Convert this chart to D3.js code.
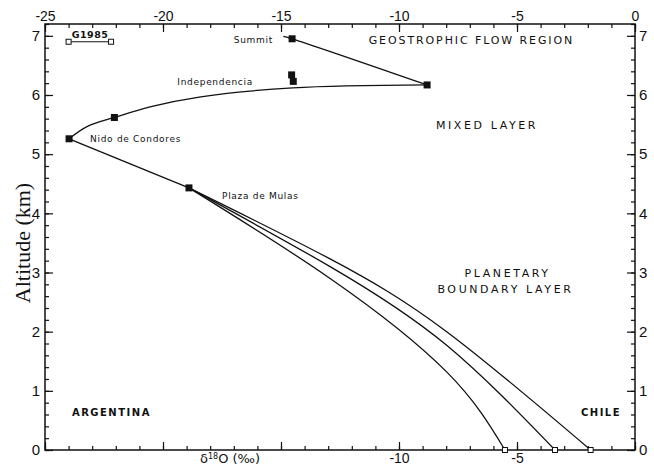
<!DOCTYPE html>
<html>
<head>
<meta charset="utf-8">
<script src="https://cdn.jsdelivr.net/npm/d3@7"></script>
<style>
  body { margin: 0; background: #fff; }
  svg { display: block; }
  .tick text { font-family: "Liberation Sans", Arial, sans-serif; fill: #111; }
  .lbl { font-family: "DejaVu Sans", "Liberation Sans", sans-serif; fill: #111; }
</style>
</head>
<body>
<svg id="chart" width="654" height="466"></svg>
<script>
// d18O (per mil) vs altitude (km)
var summitLine = [[-14.9, 6.99], [-14.53, 6.95], [-8.81, 6.17]];
var mixedLine = [[-8.81, 6.17], [-14.5, 6.12], [-18.4, 5.97], [-20.55, 5.80], [-22.06, 5.62], [-23.2, 5.47], [-23.98, 5.26]];
var slopeLine = [[-23.98, 5.26], [-18.9, 4.43]];
var pblTop = [[-18.9, 4.43], [-12.92, 3.23], [-7.98, 2.0], [-1.88, 0]];
var pblMid = [[-18.9, 4.43], [-12.92, 3.10], [-7.98, 1.77], [-3.39, 0]];
var pblLow = [[-18.9, 4.43], [-12.92, 2.90], [-7.98, 1.32], [-5.51, 0]];

var filledPts = [[-14.53, 6.95], [-14.55, 6.34], [-14.48, 6.23], [-8.81, 6.17], [-22.06, 5.62], [-23.98, 5.26], [-18.9, 4.43]];
var openPts = [[-5.51, 0], [-3.39, 0], [-1.88, 0]];
var g1985 = [[-24.0, 6.9], [-22.2, 6.9]];

var topTicks = [-25, -20, -15, -10, -5, 0];
var bottomTicks = [-10, -5];
var altTicks = [0, 1, 2, 3, 4, 5, 6, 7];

// station / region annotations [text, d18O, alt, anchor]
var stationLabels = [["Summit", -15.34, 6.88, "end"], ["Independencia", -16.19, 6.17, "end"],
                     ["Nido de Condores", -23.09, 5.21, "start"], ["Plaza de Mulas", -17.5, 4.24, "start"]];
var regionLabels = [["MIXED LAYER", -6.27, 5.42, "middle"],
                    ["PLANETARY", -5.40, 2.92, "middle"], ["BOUNDARY LAYER", -5.49, 2.65, "middle"]];
var topRegion = [["GEOSTROPHIC FLOW REGION", -6.93, 6.86, "middle"]];
var countryLabels = [["ARGENTINA", -23.86, 0.57, "start"], ["CHILE", -0.59, 0.57, "end"]];

var svg = d3.select("#chart");
var mLeft = 45, mRight = 635, mTop = 24, mBottom = 450;

var x = d3.scaleLinear().domain([-25, 0]).range([mLeft, mRight]);
var y = d3.scaleLinear().domain([0, 7.2]).range([mBottom, mTop]);

var minorX = d3.range(-25, 0.01, 1);
var minorY = d3.range(0, 7.21, 0.2);
var fmt = function(d) { return String(d); };

// frame
svg.append("rect")
  .attr("x", mLeft).attr("y", mTop)
  .attr("width", mRight - mLeft).attr("height", mBottom - mTop)
  .attr("fill", "none").attr("stroke", "#111").attr("stroke-width", 1.5);

function styleAxis(g, size) {
  g.select(".domain").remove();
  g.selectAll(".tick line").attr("stroke", "#111").attr("stroke-width", 1.2);
  g.selectAll(".tick text").style("font-size", size + "px");
}

// minor ticks
svg.append("g").attr("transform", "translate(0," + mTop + ")")
  .call(d3.axisTop(x).tickValues(minorX).tickSizeInner(-4).tickSizeOuter(0).tickFormat(""))
  .call(styleAxis, 13);
svg.append("g").attr("transform", "translate(0," + mBottom + ")")
  .call(d3.axisBottom(x).tickValues(minorX).tickSizeInner(-4).tickSizeOuter(0).tickFormat(""))
  .call(styleAxis, 13);
svg.append("g").attr("transform", "translate(" + mLeft + ",0)")
  .call(d3.axisLeft(y).tickValues(minorY).tickSizeInner(-4).tickSizeOuter(0).tickFormat(""))
  .call(styleAxis, 14);
svg.append("g").attr("transform", "translate(" + mRight + ",0)")
  .call(d3.axisRight(y).tickValues(minorY).tickSizeInner(-4).tickSizeOuter(0).tickFormat(""))
  .call(styleAxis, 14);

// major ticks + labels
svg.append("g").attr("transform", "translate(0," + mTop + ")")
  .call(d3.axisTop(x).tickValues(topTicks).tickSizeInner(-8).tickSizeOuter(0).tickPadding(3).tickFormat(fmt))
  .call(styleAxis, 14);
svg.append("g").attr("transform", "translate(0," + mBottom + ")")
  .call(d3.axisBottom(x).tickValues(topTicks).tickSizeInner(-8).tickSizeOuter(0).tickPadding(3)
    .tickFormat(function(d) { return bottomTicks.indexOf(d) > -1 ? fmt(d) : ""; }))
  .call(styleAxis, 14);
svg.append("g").attr("transform", "translate(" + mLeft + ",0)")
  .call(d3.axisLeft(y).tickValues(altTicks).tickSizeInner(-8).tickSizeOuter(0).tickPadding(5).tickFormat(fmt))
  .call(styleAxis, 15);
svg.append("g").attr("transform", "translate(" + mRight + ",0)")
  .call(d3.axisRight(y).tickValues(altTicks).tickSizeInner(-8).tickSizeOuter(0).tickPadding(4).tickFormat(fmt))
  .call(styleAxis, 15);

// axis titles
svg.append("text")
  .attr("transform", "translate(30," + 243 + ") rotate(-90)")
  .attr("text-anchor", "middle")
  .style("font-family", "'Liberation Serif', 'Times New Roman', serif")
  .style("font-size", "22px").attr("fill", "#111")
  .text("Altitude (km)");

var xt = svg.append("text").attr("class", "lbl")
  .attr("x", 200).attr("y", 463)
  .style("font-size", "13px");
xt.append("tspan").text("δ");
xt.append("tspan").attr("dy", -4).style("font-size", "8px").text("18");
xt.append("tspan").attr("dy", 4).text("O (‰)");

// curves
var line = d3.line()
  .x(function(d) { return x(d[0]); })
  .y(function(d) { return y(d[1]); })
  .curve(d3.curveCatmullRom.alpha(0.5));
var smooth = d3.line()
  .x(function(d) { return x(d[0]); })
  .y(function(d) { return y(d[1]); })
  .curve(d3.curveNatural);

[summitLine, mixedLine, slopeLine].forEach(function(s) {
  svg.append("path").datum(s)
    .attr("d", line)
    .attr("fill", "none")
    .attr("stroke", "#111")
    .attr("stroke-width", 1.3);
});
[pblTop, pblMid, pblLow].forEach(function(s) {
  svg.append("path").datum(s)
    .attr("d", smooth)
    .attr("fill", "none")
    .attr("stroke", "#111")
    .attr("stroke-width", 1.3);
});

// G1985 range
svg.append("path").datum(g1985)
  .attr("d", d3.line().x(function(d) { return x(d[0]); }).y(function(d) { return y(d[1]); }))
  .attr("stroke", "#111").attr("stroke-width", 1.2);

// markers
svg.selectAll(".fpt").data(filledPts).enter().append("rect")
  .attr("class", "fpt")
  .attr("x", function(d) { return x(d[0]) - 3.5; })
  .attr("y", function(d) { return y(d[1]) - 3.5; })
  .attr("width", 7).attr("height", 7)
  .attr("fill", "#111");

svg.selectAll(".opt").data(openPts.concat(g1985)).enter().append("rect")
  .attr("class", "opt")
  .attr("x", function(d) { return x(d[0]) - 2.5; })
  .attr("y", function(d) { return y(d[1]) - 2.5; })
  .attr("width", 5).attr("height", 5)
  .attr("fill", "#fff").attr("stroke", "#111").attr("stroke-width", 1);

// annotations
function addLabels(arr, size, spacing, weight) {
  svg.selectAll(null).data(arr).enter().append("text")
    .attr("class", "lbl")
    .attr("x", function(d) { return x(d[1]); })
    .attr("y", function(d) { return y(d[2]); })
    .attr("text-anchor", function(d) { return d[3]; })
    .style("font-size", size + "px")
    .style("letter-spacing", spacing + "px")
    .style("font-weight", weight)
    .text(function(d) { return d[0]; });
}
addLabels(stationLabels, 9, 0.7, "normal");
addLabels(regionLabels, 11, 2.6, "normal");
addLabels(topRegion, 11, 1.9, "normal");
addLabels(countryLabels, 10, 1.5, "bold");
addLabels([["G1985", -23.09, 6.96, "middle"]], 9.5, 0.5, "bold");
</script>
</body>
</html>
